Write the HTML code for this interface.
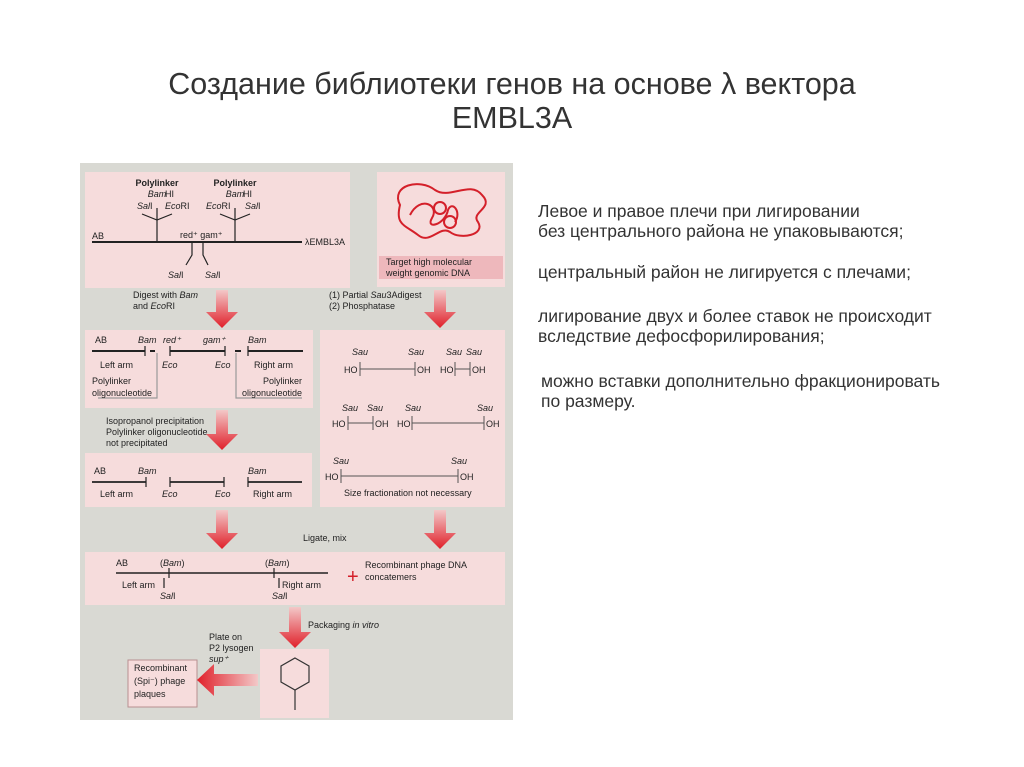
<!DOCTYPE html>
<html><head><meta charset="utf-8"><style>
html,body{margin:0;padding:0;background:#fff;width:1024px;height:767px;overflow:hidden}
svg{display:block}
.t{font-family:"Liberation Sans",sans-serif;fill:#333}
.s{font-family:"Liberation Sans",sans-serif;font-size:9px;fill:#222}
.i{font-style:italic}
.b{font-weight:bold}
.ru{font-family:"Liberation Sans","Noto Sans CJK SC",sans-serif;font-size:17.5px;fill:#333}
</style></head><body>
<svg width="1024" height="767" viewBox="0 0 1024 767" xmlns="http://www.w3.org/2000/svg">
<defs>
<linearGradient id="gv" x1="0" y1="0" x2="0" y2="1"><stop offset="0" stop-color="#f3c8c8"/><stop offset="1" stop-color="#e0202a"/></linearGradient>
<linearGradient id="gh" x1="1" y1="0" x2="0" y2="0"><stop offset="0" stop-color="#f3c8c8"/><stop offset="1" stop-color="#e0202a"/></linearGradient>
</defs>
<text class="t" x="512" y="94" font-size="30.5" text-anchor="middle">Создание библиотеки генов на основе λ вектора</text>
<text class="t" x="512" y="128" font-size="30.5" text-anchor="middle">EMBL3A</text>

<rect x="80" y="163" width="433" height="557" fill="#d9d9d3"/>
<g fill="#f6dcdc">
<rect x="85" y="172" width="265" height="116"/>
<rect x="377" y="172" width="128" height="115"/>
<rect x="85" y="330" width="228" height="78"/>
<rect x="320" y="330" width="185" height="177"/>
<rect x="85" y="453" width="227" height="54"/>
<rect x="85" y="552" width="420" height="53"/>
<rect x="260" y="649" width="69" height="69"/>
<rect x="128" y="660" width="69" height="47" stroke="#b89090" stroke-width="1"/>
</g>
<rect x="379" y="256" width="124" height="23" fill="#eeb8bc"/>

<g stroke="#222" stroke-width="1.2" fill="none">
<line x1="92" y1="242" x2="302" y2="242" stroke-width="2"/>
<line x1="157" y1="208" x2="157" y2="242"/>
<polyline points="142,214 157,220 172,214"/>
<line x1="235" y1="208" x2="235" y2="242"/>
<polyline points="220,214 235,220 250,214"/>
<polyline points="192,243 192,255 186,265"/>
<polyline points="203,243 203,255 208,265"/>
</g>
<text class="s b" x="157" y="186" text-anchor="middle">Polylinker</text>
<text class="s b" x="235" y="186" text-anchor="middle">Polylinker</text>
<text class="s i" x="157" y="197" text-anchor="middle">Bam</text><text class="s" x="165" y="197">HI</text>
<text class="s i" x="235" y="197" text-anchor="middle">Bam</text><text class="s" x="243" y="197">HI</text>
<text class="s" x="137" y="209"><tspan class="i">Sal</tspan>I</text>
<text class="s" x="165" y="209"><tspan class="i">Eco</tspan>RI</text>
<text class="s" x="206" y="209"><tspan class="i">Eco</tspan>RI</text>
<text class="s" x="245" y="209"><tspan class="i">Sal</tspan>I</text>
<text class="s" x="92" y="239">AB</text>
<text class="s" x="180" y="238">red⁺ gam⁺</text>
<text class="s" x="305" y="245">λEMBL3A</text>
<text class="s" x="168" y="278"><tspan class="i">Sal</tspan>I</text>
<text class="s" x="205" y="278"><tspan class="i">Sal</tspan>I</text>

<g stroke="#d4202a" stroke-width="2" fill="none">
<path d="M400 205 C390 185 420 178 435 190 C450 200 470 180 482 195 C495 208 470 212 478 222 C486 235 460 240 450 232 C440 225 430 245 418 235 C405 225 395 225 400 205 Z"/>
<path d="M410 215 C420 195 440 205 432 218 C425 230 445 225 448 210 C452 200 462 212 455 222"/>
<circle cx="440" cy="208" r="6"/><circle cx="450" cy="222" r="6"/>
</g>
<text class="s" x="386" y="265">Target high molecular</text>
<text class="s" x="386" y="276">weight genomic DNA</text>

<text class="s" x="133" y="298"><tspan>Digest with </tspan><tspan class="i">Bam</tspan></text>
<text class="s" x="133" y="309"><tspan>and </tspan><tspan class="i">Eco</tspan>RI</text>
<text class="s" x="329" y="298">(1) Partial <tspan class="i">Sau</tspan>3Adigest</text>
<text class="s" x="329" y="309">(2) Phosphatase</text>

<g stroke="#222" stroke-width="1.2" fill="none">
<line x1="92" y1="351" x2="145" y2="351" stroke-width="2"/><line x1="145" y1="346" x2="145" y2="356"/>
<line x1="150" y1="351" x2="155" y2="351" stroke-width="2"/>
<line x1="170" y1="351" x2="225" y2="351" stroke-width="2"/><line x1="170" y1="346" x2="170" y2="356"/><line x1="225" y1="346" x2="225" y2="356"/>
<line x1="235" y1="351" x2="241" y2="351" stroke-width="2"/>
<line x1="248" y1="351" x2="303" y2="351" stroke-width="2"/><line x1="248" y1="346" x2="248" y2="356"/>
<polyline points="157,353 157,398 98,398" stroke="#999"/>
<polyline points="236,353 236,398 302,398" stroke="#999"/>
</g>
<text class="s" x="95" y="343">AB</text>
<text class="s i" x="138" y="343">Bam</text><text class="s i" x="163" y="343">red⁺</text>
<text class="s i" x="203" y="343">gam⁺</text><text class="s i" x="248" y="343">Bam</text>
<text class="s" x="100" y="368">Left arm</text><text class="s i" x="162" y="368">Eco</text>
<text class="s i" x="215" y="368">Eco</text><text class="s" x="254" y="368">Right arm</text>
<text class="s" x="92" y="384">Polylinker</text><text class="s" x="92" y="396">oligonucleotide</text>
<text class="s" x="302" y="384" text-anchor="end">Polylinker</text><text class="s" x="302" y="396" text-anchor="end">oligonucleotide</text>

<g stroke="#555" stroke-width="1" fill="none">
<line x1="360" y1="369" x2="415" y2="369"/><line x1="360" y1="362" x2="360" y2="376"/><line x1="415" y1="362" x2="415" y2="376"/>
<line x1="455" y1="369" x2="470" y2="369"/><line x1="455" y1="362" x2="455" y2="376"/><line x1="470" y1="362" x2="470" y2="376"/>
<line x1="348" y1="423" x2="373" y2="423"/><line x1="348" y1="416" x2="348" y2="430"/><line x1="373" y1="416" x2="373" y2="430"/>
<line x1="412" y1="423" x2="484" y2="423"/><line x1="412" y1="416" x2="412" y2="430"/><line x1="484" y1="416" x2="484" y2="430"/>
<line x1="341" y1="476" x2="458" y2="476"/><line x1="341" y1="469" x2="341" y2="483"/><line x1="458" y1="469" x2="458" y2="483"/>
</g>
<text class="s i" x="352" y="355">Sau</text><text class="s i" x="408" y="355">Sau</text><text class="s i" x="446" y="355">Sau</text><text class="s i" x="466" y="355">Sau</text>
<text class="s" x="344" y="373">HO</text><text class="s" x="417" y="373">OH</text><text class="s" x="440" y="373">HO</text><text class="s" x="472" y="373">OH</text>
<text class="s i" x="342" y="411">Sau</text><text class="s i" x="367" y="411">Sau</text><text class="s i" x="405" y="411">Sau</text><text class="s i" x="477" y="411">Sau</text>
<text class="s" x="332" y="427">HO</text><text class="s" x="375" y="427">OH</text><text class="s" x="397" y="427">HO</text><text class="s" x="486" y="427">OH</text>
<text class="s i" x="333" y="464">Sau</text><text class="s i" x="451" y="464">Sau</text>
<text class="s" x="325" y="480">HO</text><text class="s" x="460" y="480">OH</text>
<text class="s" x="344" y="496">Size fractionation not necessary</text>

<text class="s" x="106" y="424">Isopropanol precipitation</text>
<text class="s" x="106" y="435">Polylinker oligonucleotide</text>
<text class="s" x="106" y="446">not precipitated</text>

<g stroke="#222" stroke-width="1.2" fill="none">
<line x1="92" y1="482" x2="146" y2="482" stroke-width="1.8"/><line x1="146" y1="477" x2="146" y2="487"/>
<line x1="170" y1="482" x2="224" y2="482" stroke-width="1.8"/><line x1="170" y1="477" x2="170" y2="487"/><line x1="224" y1="477" x2="224" y2="487"/>
<line x1="248" y1="482" x2="302" y2="482" stroke-width="1.8"/><line x1="248" y1="477" x2="248" y2="487"/>
</g>
<text class="s" x="94" y="474">AB</text><text class="s i" x="138" y="474">Bam</text><text class="s i" x="248" y="474">Bam</text>
<text class="s" x="100" y="497">Left arm</text><text class="s i" x="162" y="497">Eco</text><text class="s i" x="215" y="497">Eco</text><text class="s" x="253" y="497">Right arm</text>

<text class="s" x="303" y="541">Ligate, mix</text>

<g stroke="#222" stroke-width="1.2" fill="none">
<line x1="116" y1="573" x2="328" y2="573" stroke-width="1.5"/>
<line x1="169" y1="568" x2="169" y2="578"/><line x1="164" y1="578" x2="164" y2="588"/>
<line x1="274" y1="568" x2="274" y2="578"/><line x1="279" y1="578" x2="279" y2="588"/>
</g>
<text class="s" x="116" y="566">AB</text><text class="s" x="160" y="566">(<tspan class="i">Bam</tspan>)</text>
<text class="s" x="265" y="566">(<tspan class="i">Bam</tspan>)</text>
<text class="s" x="122" y="588">Left arm</text><text class="s" x="282" y="588">Right arm</text>
<text class="s" x="160" y="599"><tspan class="i">Sal</tspan>I</text><text class="s" x="272" y="599"><tspan class="i">Sal</tspan>I</text>
<text x="347" y="583" font-family="Liberation Sans,sans-serif" font-size="20" fill="#d4202a">+</text>
<text class="s" x="365" y="568">Recombinant phage DNA</text>
<text class="s" x="365" y="580">concatemers</text>

<text class="s" x="308" y="628">Packaging <tspan class="i">in vitro</tspan></text>
<text class="s" x="209" y="640">Plate on</text>
<text class="s" x="209" y="651">P2 lysogen</text>
<text class="s i" x="209" y="662">sup⁺</text>

<g stroke="#333" stroke-width="1.2" fill="none">
<polygon points="295,658 309,666 309,682 295,690 281,682 281,666"/>
<line x1="295" y1="690" x2="295" y2="710"/>
</g>
<text class="s" x="134" y="671">Recombinant</text>
<text class="s" x="134" y="684">(Spi⁻) phage</text>
<text class="s" x="134" y="697">plaques</text>

<g>
<path d="M216 290 h12 v22 h10 l-16 16 l-16 -16 h10 z" fill="url(#gv)"/>
<path d="M434 290 h12 v22 h10 l-16 16 l-16 -16 h10 z" fill="url(#gv)"/>
<path d="M216 410 h12 v24 h10 l-16 16 l-16 -16 h10 z" fill="url(#gv)"/>
<path d="M216 510 h12 v23 h10 l-16 16 l-16 -16 h10 z" fill="url(#gv)"/>
<path d="M434 510 h12 v23 h10 l-16 16 l-16 -16 h10 z" fill="url(#gv)"/>
<path d="M289 607 h12 v25 h10 l-16 16 l-16 -16 h10 z" fill="url(#gv)"/>
<path d="M258 674 v12 h-44 v10 l-17 -16 l17 -16 v10 z" fill="url(#gh)"/>
</g>

<text class="ru" x="538" y="217">Левое и правое плечи при лигировании</text>
<text class="ru" x="538" y="237">без центрального района не упаковываются;</text>
<text class="ru" x="538" y="278">центральный район не лигируется с плечами;</text>
<text class="ru" x="538" y="322">лигирование двух и более ставок не происходит</text>
<text class="ru" x="538" y="342">вследствие дефосфорилирования;</text>
<text class="ru" x="541" y="387">можно вставки дополнительно фракционировать</text>
<text class="ru" x="541" y="407">по размеру.</text>
</svg>
</body></html>
